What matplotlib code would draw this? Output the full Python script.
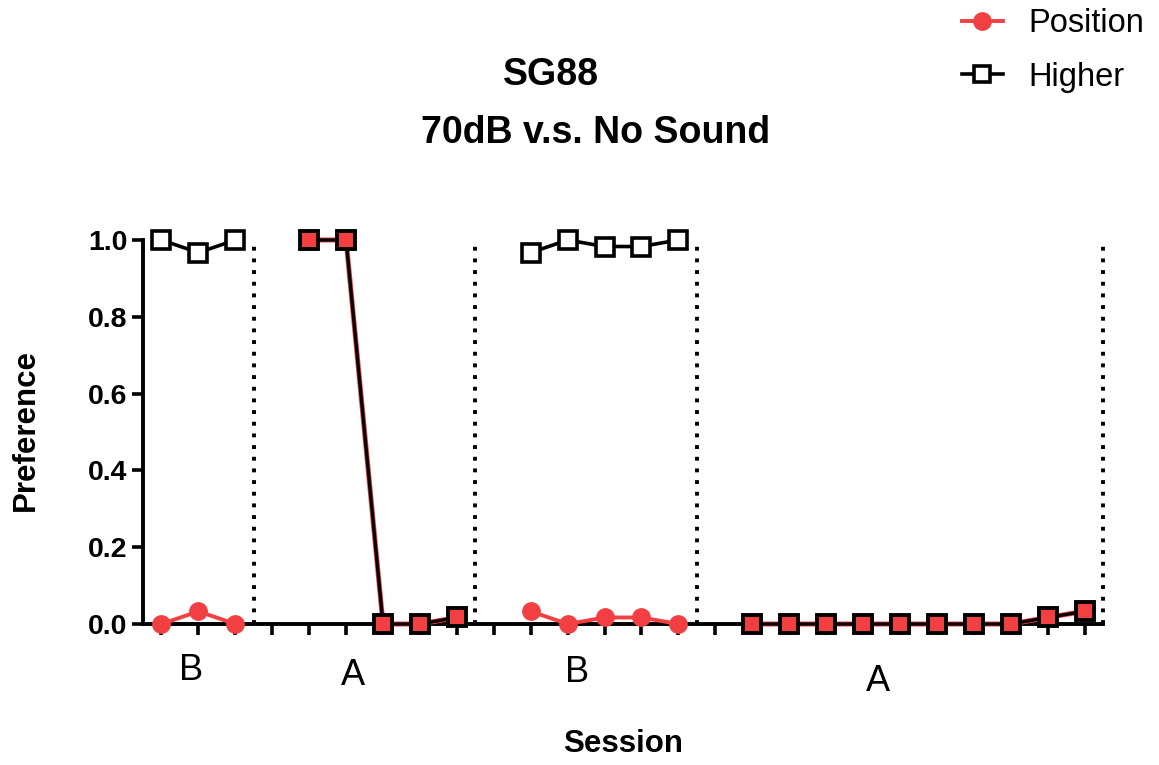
import matplotlib.pyplot as plt
import numpy as np

plt.rcParams['font.family'] = ['Liberation Sans', 'DejaVu Sans']

# phases of the experiment: (condition, sessions)
phase_names = ['B', 'A', 'B', 'A']
phase_sessions = [
    [1, 2, 3],
    [5, 6, 7, 8, 9],
    [11, 12, 13, 14, 15],
    [17, 18, 19, 20, 21, 22, 23, 24, 25, 26],
]
position = [
    [0.0, 0.033, 0.0],
    [1.0, 1.0, 0.0, 0.0, 0.017],
    [0.033, 0.0, 0.017, 0.017, 0.0],
    [0.0, 0.0, 0.0, 0.0, 0.0, 0.0, 0.0, 0.0, 0.017, 0.033],
]
higher = [
    [1.0, 0.967, 1.0],
    [1.0, 1.0, 0.0, 0.0, 0.017],
    [0.967, 1.0, 0.983, 0.983, 1.0],
    [0.0, 0.0, 0.0, 0.0, 0.0, 0.0, 0.0, 0.0, 0.017, 0.033],
]
phase_breaks = [3.5, 9.5, 15.5, 26.5]

red = '#F23F42'

fig = plt.figure(figsize=(11.59, 7.65), dpi=100)
ax = fig.add_axes([0.1234, 0.1843, 0.8283, 0.502])

for b in phase_breaks:
    ax.axvline(b, color='black', lw=2.8, linestyle=(0, (1, 2.0)),
               clip_on=False, zorder=1)

for name, xs, pos, hi in zip(phase_names, phase_sessions, position, higher):
    if name == 'B':
        ax.plot(xs, pos, color=red, lw=2.8, marker='o', ms=12.5,
                mfc=red, mec=red, clip_on=False, zorder=3)
        ax.plot(xs, hi, color='black', lw=2.6, marker='s', ms=12.5,
                mfc='white', mec='black', mew=2.6, clip_on=False, zorder=4)
    else:
        ax.plot(xs, pos, color=red, lw=3.6, clip_on=False, zorder=3)
        ax.plot(xs, hi, color='black', lw=2.4, marker='s', ms=12.5,
                mfc=red, mec='black', mew=2.8, clip_on=False, zorder=4)

ax.set_xlim(0.5, 26.5)
ax.set_ylim(0, 1.0)
ax.set_xticks(np.arange(1, 27))
ax.set_xticklabels([])
ax.set_yticks(np.arange(0, 1.01, 0.2))
ax.set_yticklabels(['%.1f' % v for v in np.arange(0, 1.01, 0.2)],
                   fontsize=20.5, fontweight='bold')
ax.tick_params(axis='both', direction='out', length=8, width=2.6, color='black')
ax.tick_params(axis='y', pad=3)
for s in ['top', 'right']:
    ax.spines[s].set_visible(False)
for s in ['left', 'bottom']:
    ax.spines[s].set_linewidth(2.8)

# condition labels below the axis
label_x = [1.8, 6.2, 12.25, 20.4]
label_y = [-0.12, -0.135, -0.125, -0.15]
for name, lx, ly in zip(phase_names, label_x, label_y):
    ax.text(lx, ly, name, transform=ax.get_xaxis_transform(),
            ha='center', va='center', fontsize=26)

# axis titles
fig.text(0.538, 0.028, 'Session', ha='center', va='center',
         fontsize=22.5, fontweight='bold')
fig.text(0.022, 0.438, 'Preference', ha='center', va='center',
         rotation=90, fontsize=22.5, fontweight='bold')

fig.text(0.475, 0.902, 'SG88', ha='center', va='center',
         fontsize=27, fontweight='bold')
fig.text(0.514, 0.826, '70dB v.s. No Sound', ha='center', va='center',
         fontsize=27, fontweight='bold')

handles = [
    plt.Line2D([], [], color=red, lw=2.8, marker='o', ms=12.5, mfc=red, mec=red),
    plt.Line2D([], [], color='black', lw=2.6, marker='s', ms=11, mfc='white',
               mec='black', mew=2.6),
]
fig.legend(handles, ['Position', 'Higher'], loc='upper right',
           bbox_to_anchor=(1.013, 1.028), frameon=False, fontsize=23.5,
           handlelength=1.25, handletextpad=0.8, labelspacing=0.7)

fig.savefig('out.png', dpi=100)
